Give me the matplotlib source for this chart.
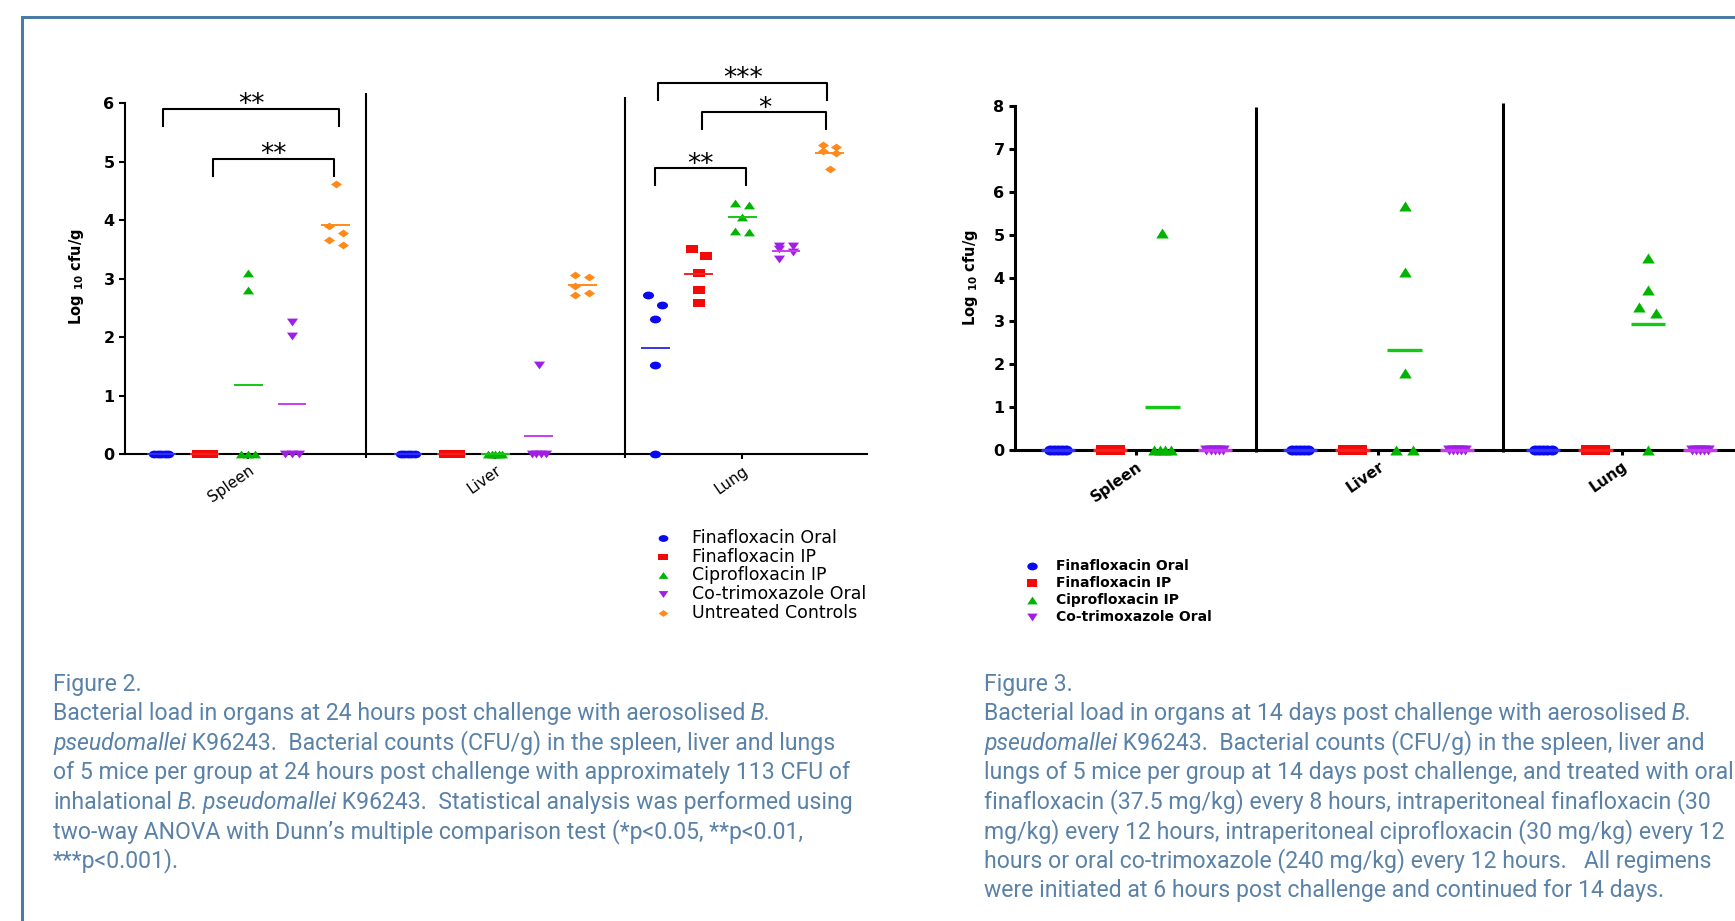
import numpy as np
import matplotlib.pyplot as plt
from matplotlib.path import Path
from matplotlib.lines import Line2D
from matplotlib.patches import Rectangle
from matplotlib.text import Annotation

plt.rcParams['font.family'] = ['DejaVu Sans']
plt.rcParams['mathtext.fontset'] = 'dejavusans'

# ---- data (log10 cfu/g, 5 mice per group) ----
organs = ['Spleen', 'Liver', 'Lung']
groups = ['Finafloxacin Oral', 'Finafloxacin IP', 'Ciprofloxacin IP',
          'Co-trimoxazole Oral', 'Untreated Controls']

# 24 hours post challenge: one list per organ (Spleen, Liver, Lung)
fin_oral_24 = [[0, 0, 0, 0, 0], [0, 0, 0, 0, 0], [2.72, 2.55, 2.30, 1.52, 0]]
fin_ip_24 = [[0, 0, 0, 0, 0], [0, 0, 0, 0, 0], [3.50, 3.38, 3.10, 2.80, 2.58]]
cipro_24 = [[3.10, 2.80, 0, 0, 0], [0, 0, 0, 0, 0], [4.30, 4.25, 4.05, 3.82, 3.80]]
cotrim_24 = [[2.25, 2.02, 0, 0, 0], [1.52, 0, 0, 0, 0], [3.55, 3.55, 3.50, 3.45, 3.33]]
untreated_24 = [[4.62, 3.90, 3.78, 3.66, 3.58], [3.06, 3.02, 2.88, 2.76, 2.72],
                [5.28, 5.25, 5.18, 5.15, 4.88]]

# 14 days post challenge
fin_oral_14 = [[0, 0, 0, 0, 0], [0, 0, 0, 0, 0], [0, 0, 0, 0, 0]]
fin_ip_14 = [[0, 0, 0, 0, 0], [0, 0, 0, 0, 0], [0, 0, 0, 0, 0]]
cipro_14 = [[5.05, 0, 0, 0, 0], [5.68, 4.15, 1.80, 0, 0], [4.47, 3.73, 3.32, 3.18, 0]]
cotrim_14 = [[0, 0, 0, 0, 0], [0, 0, 0, 0, 0], [0, 0, 0, 0, 0]]

# significance brackets on the 24 h chart: (organ, group a, group b)
sig_pairs = [(0, 0, 4), (0, 1, 4), (2, 0, 4), (2, 1, 4), (2, 0, 2)]
sig_labels = ['**', '**', '***', '*', '**']
sig_heights = [5.90, 5.05, 6.35, 5.84, 4.89]

caption2 = [
    [('Figure 2.', 'normal')],
    [('Bacterial load in organs at 24 hours post challenge with aerosolised', 'normal'), (' B.', 'italic')],
    [('pseudomallei', 'italic'), (' K96243.  Bacterial counts (CFU/g) in the spleen, liver and lungs', 'normal')],
    [('of 5 mice per group at 24 hours post challenge with approximately 113 CFU of', 'normal')],
    [('inhalational', 'normal'), (' B. pseudomallei', 'italic'),
     (' K96243.  Statistical analysis was performed using', 'normal')],
    [('two-way ANOVA with Dunn\u2019s multiple comparison test (*p<0.05, **p<0.01,', 'normal')],
    [('***p<0.001).', 'normal')],
]
caption3 = [
    [('Figure 3.', 'normal')],
    [('Bacterial load in organs at 14 days post challenge with aerosolised', 'normal'), (' B.', 'italic')],
    [('pseudomallei', 'italic'), (' K96243.  Bacterial counts (CFU/g) in the spleen, liver and', 'normal')],
    [('lungs of 5 mice per group at 14 days post challenge, and treated with oral', 'normal')],
    [('finafloxacin (37.5 mg/kg) every 8 hours, intraperitoneal finafloxacin (30', 'normal')],
    [('mg/kg) every 12 hours, intraperitoneal ciprofloxacin (30 mg/kg) every 12', 'normal')],
    [('hours or oral co-trimoxazole (240 mg/kg) every 12 hours.   All regimens', 'normal')],
    [('were initiated at 6 hours post challenge and continued for 14 days.', 'normal')],
]

# ---- styles ----
colors = ['#0a0af0', '#f20a0a', '#00b400', '#a01ee6', '#ff8a1a']
line_colors = ['#3232f5', '#f52020', '#14c814', '#c83cf0', '#ff8a1a']
cap_color = '#5a82a8'
W, H = 1735, 921


def fx(px):
    return px / W


def fy(py):
    return 1 - py / H


def shape(kind, a):
    # wide markers: the original graph was stretched sideways
    if kind == 'o':
        c = Path.unit_circle()
        return Path(c.vertices * [1, a], c.codes)
    if kind == 's':
        return Path([(-1, -a), (1, -a), (1, a), (-1, a), (-1, -a)], closed=True)
    if kind == '^':
        return Path([(-1, -a), (1, -a), (0, a), (-1, -a)], closed=True)
    if kind == 'v':
        return Path([(-1, a), (1, a), (0, -a), (-1, a)], closed=True)
    return Path([(0, a), (1, 0), (0, -a), (-1, 0), (0, a)], closed=True)


kinds = ['o', 's', '^', 'v', 'D']


def swarm(vals, h, s):
    vals = np.asarray(vals, dtype=float)
    order = np.argsort(-vals, kind='stable')
    clusters = []
    for i in order:
        if clusters and vals[clusters[-1][-1]] - vals[i] < h:
            clusters[-1].append(i)
        else:
            clusters.append([i])
    offs = np.zeros(len(vals))
    for c in clusters:
        if len(c) < 2:
            continue
        if vals[c].max() == vals[c].min():
            offs[c] = np.linspace(-s, s, len(c))
        else:
            for k, i in enumerate(c):
                offs[i] = -s if k % 2 == 0 else s
    return offs


def draw_groups(ax, data, starts, ms, a, h, s, half, mlw):
    for gi, series in enumerate(data):
        mk = shape(kinds[gi], a)
        for oi, vals in enumerate(series):
            x0 = starts[oi] + gi
            ax.plot(x0 + swarm(vals, h, s), vals, linestyle='none', marker=mk, ms=ms,
                    color=colors[gi], mew=0, clip_on=False, zorder=3)
            m = np.mean(vals)
            ax.plot([x0 - half, x0 + half], [m, m], color=line_colors[gi], lw=mlw,
                    solid_capstyle='butt', clip_on=False, zorder=4)


def style_axes(ax, ymax, lw):
    for sp in ['top', 'right']:
        ax.spines[sp].set_visible(False)
    ax.spines['left'].set_bounds(0, ymax)
    ax.spines['left'].set_linewidth(lw)
    ax.spines['bottom'].set_linewidth(lw)
    ax.set_yticks(range(ymax + 1))
    ax.tick_params(axis='y', length=4.5, width=lw, pad=3, labelsize=11.5)
    ax.tick_params(axis='x', length=3.5, width=lw, pad=3)
    for t in ax.get_yticklabels():
        t.set_fontweight('bold')
    ax.patch.set_visible(False)


fig = plt.figure(figsize=(17.35, 9.21), dpi=100)

# ---- Figure 2 chart (24 h) ----
axL = fig.add_axes([fx(125), fy(454), 742 / W, (454 - 68) / H])
startsL = [0.83, 6.49, 12.16]
axL.set_xlim(0, 17.02)
axL.set_ylim(0, 6.6)
style_axes(axL, 6, 1.5)
draw_groups(axL, [fin_oral_24, fin_ip_24, cipro_24, cotrim_24, untreated_24],
            startsL, 8, 0.7, 0.18, 0.16, 0.33, 1.4)
for xs, top in zip([5.53, 11.47], [6.17, 6.10]):
    axL.plot([xs, xs], [-0.06, top], color='k', lw=1.5, solid_capstyle='butt', clip_on=False)
axL.set_xticks([s + 2 for s in startsL])
axL.set_xticklabels(organs, rotation=35, ha='right', rotation_mode='anchor', fontsize=11)

bracket_pad = [(0.04, 0.09), (0.19, -0.04), (0.07, -0.05), (0.08, -0.07), (0.0, 0.08)]
for (oi, ga, gb), lab, y, (pa, pb) in zip(sig_pairs, sig_labels, sig_heights, bracket_pad):
    xa = startsL[oi] + ga + pa
    xb = startsL[oi] + gb + pb
    axL.plot([xa, xa, xb, xb], [y - 0.29, y, y, y - 0.29], color='k', lw=1.5, clip_on=False)
    axL.text((xa + xb) / 2, y - 0.06, lab, ha='center', va='baseline', fontsize=19)

fig.text(fx(76), fy(277), r'Log $_{\mathbf{10}}$ cfu/g', rotation=90, ha='center',
         va='center', fontsize=10.5, fontweight='bold')

# ---- Figure 3 chart (14 days) ----
axR = fig.add_axes([fx(1015), fy(450), 14.5 * 52.3 / W, 8.6 * 43 / H])
startsR = [0.82, 5.45, 10.10]
axR.set_xlim(0, 14.5)
axR.set_ylim(0, 8.6)
style_axes(axR, 8, 2.2)
draw_groups(axR, [fin_oral_14, fin_ip_14, cipro_14, cotrim_14],
            startsR, 9, 0.8, 0.25, 0.16, 0.33, 2.4)
for xs, top in zip([4.61, 9.33], [7.98, 8.07]):
    axR.plot([xs, xs], [-0.05, top], color='k', lw=2.2, solid_capstyle='butt', clip_on=False)
axR.set_xticks([s + 1.5 for s in startsR])
axR.set_xticklabels(organs, rotation=35, ha='right', rotation_mode='anchor',
                    fontsize=11, fontweight='bold')

fig.text(fx(970), fy(278), r'Log $_{\mathbf{10}}$ cfu/g', rotation=90, ha='center',
         va='center', fontsize=10.5, fontweight='bold')

# ---- legends ----
rowsL = [538, 556.5, 575, 594, 612.5]
for i, lab in enumerate(groups):
    fig.add_artist(Line2D([fx(663)], [fy(rowsL[i])], transform=fig.transFigure,
                          marker=shape(kinds[i], 0.7), ms=7, color=colors[i], mew=0,
                          linestyle='none'))
    fig.text(fx(692), fy(rowsL[i]), lab, va='center', fontsize=12.5)

rowsR = [566, 583, 600, 617]
for i, lab in enumerate(groups[:4]):
    fig.add_artist(Line2D([fx(1032)], [fy(rowsR[i])], transform=fig.transFigure,
                          marker=shape(kinds[i], 0.75), ms=7.5, color=colors[i], mew=0,
                          linestyle='none'))
    fig.text(fx(1056), fy(rowsR[i]), lab, va='center', fontsize=10, fontweight='bold')


# ---- captions ----
def caption(x, lines):
    for k, parts in enumerate(lines):
        y = fy(691 + k * 29.4)
        t = fig.text(fx(x), y, parts[0][0], style=parts[0][1], va='baseline', ha='left',
                     fontsize=16.6, family=['Roboto', 'DejaVu Sans'], fontweight='normal',
                     color=cap_color)
        for s, st in parts[1:]:
            t = fig.add_artist(Annotation(s, xy=(1, 0), xycoords=t, va='bottom', ha='left',
                                          fontsize=16.6, family=['Roboto', 'DejaVu Sans'],
                                          fontweight='normal', style=st, color=cap_color))


caption(53, caption2)
caption(984, caption3)

# frame round the panel
fig.add_artist(Rectangle((fx(21.5), -0.1), 2, fy(17.5) + 0.1, transform=fig.transFigure,
                         fill=False, edgecolor='#4a7aa6', lw=2.2))

fig.savefig('out.png', dpi=100)
